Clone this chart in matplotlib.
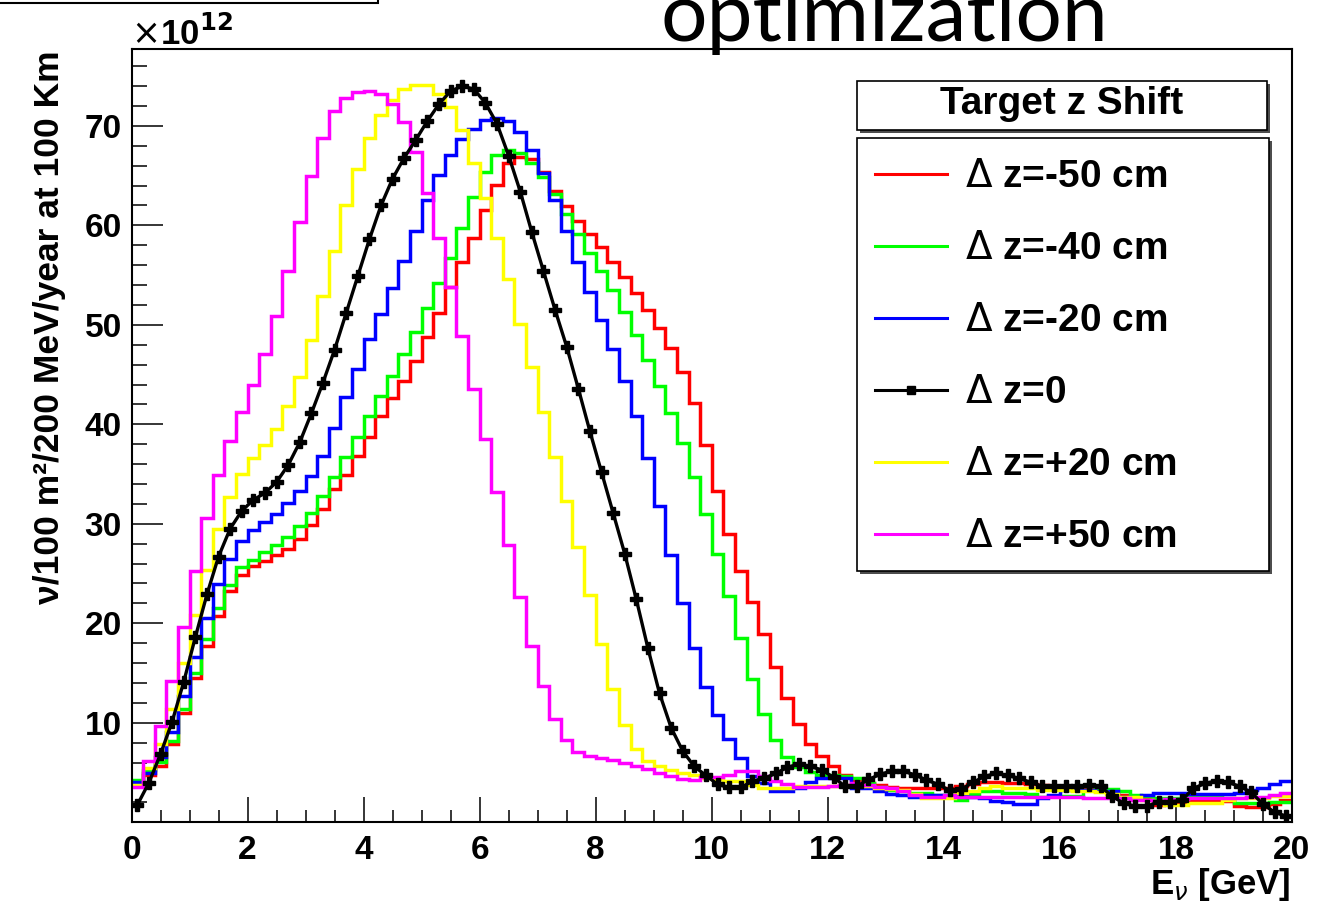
import numpy as np
import matplotlib
matplotlib.use('Agg')
import matplotlib.pyplot as plt
from matplotlib.patches import Rectangle
from matplotlib.lines import Line2D
from matplotlib.ticker import MultipleLocator, FuncFormatter

plt.rcParams['font.family'] = ['Liberation Sans', 'DejaVu Sans']

# -----------------------------
# Data: nu flux per 200 MeV bin (x 1e12), 0-20 GeV
# -----------------------------
bin_width = 0.2
n_bins = 100

dz_m50 = [3.9, 4.74, 5.65, 7.9, 11.0, 14.5, 17.7, 20.7, 23.2, 24.9,
          25.75, 26.3, 26.9, 27.5, 28.5, 29.9, 31.5, 33.5, 34.9, 36.8,
          38.7, 40.8, 42.6, 44.4, 46.4, 48.8, 51.2, 53.8, 56.3, 58.7,
          61.5, 64.1, 66.3, 66.9, 66.65, 65.4, 63.5, 61.9, 60.45, 59.1,
          57.8, 56.3, 54.8, 53.2, 51.5, 49.7, 47.7, 45.3, 42.1, 37.9,
          33.3, 29.0, 25.3, 22.1, 18.9, 15.6, 12.45, 9.9, 7.9, 6.65,
          5.6, 4.7, 4.2, 3.9, 3.7, 3.5, 3.4, 3.4, 3.4, 3.4,
          3.4, 3.6, 3.8, 4.0, 4.0, 3.9, 3.9, 3.8, 3.7, 3.67,
          3.67, 3.67, 3.47, 3.3, 3.1, 2.7, 2.5, 2.3, 1.75, 2.05,
          2.05, 2.2, 2.2, 2.2, 2.1, 1.6, 1.5, 1.5, 1.8, 2.2]

dz_m40 = [4.24, 5.2, 6.1, 8.2, 11.4, 15.0, 18.4, 21.5, 23.8, 25.7,
          26.4, 27.2, 27.9, 28.7, 29.8, 31.1, 32.8, 34.7, 36.7, 38.7,
          40.8, 42.8, 44.9, 47.1, 49.3, 51.7, 54.2, 56.7, 59.7, 62.9,
          65.4, 67.05, 67.6, 67.3, 66.3, 64.9, 63.2, 61.1, 59.1, 57.2,
          55.4, 53.5, 51.3, 49.0, 46.5, 43.9, 41.1, 38.1, 34.7, 31.0,
          27.0, 22.7, 18.5, 14.4, 10.9, 8.3, 6.55, 5.5, 5.0, 4.7,
          4.7, 4.6, 4.4, 3.9, 3.57, 3.25, 3.1, 2.9, 2.9, 2.74,
          2.74, 2.2, 2.8, 3.1, 3.15, 2.9, 2.9, 2.8, 2.5, 2.65,
          2.65, 2.65, 3.25, 3.35, 3.35, 3.1, 2.74, 2.6, 2.4, 2.45,
          2.45, 2.55, 2.55, 2.55, 2.45, 1.9, 1.9, 1.9, 2.0, 2.0]

dz_m20 = [4.07, 4.97, 6.6, 9.1, 12.7, 16.6, 20.5, 23.9, 26.5, 28.3,
          29.4, 30.2, 31.0, 32.05, 33.3, 34.8, 36.8, 39.6, 42.7, 45.6,
          48.6, 51.1, 53.7, 56.4, 59.4, 62.5, 65.1, 67.05, 68.7, 69.7,
          70.6, 70.8, 70.5, 69.4, 67.6, 65.3, 62.5, 59.45, 56.3, 53.3,
          50.5, 47.6, 44.4, 40.8, 36.6, 31.8, 26.9, 22.0, 17.5, 13.6,
          10.8, 8.4, 6.5, 4.6, 3.9, 3.1, 3.1, 3.4, 4.0, 4.4,
          4.4, 4.4, 3.47, 3.4, 3.1, 2.8, 2.7, 2.55, 2.7, 2.74,
          2.74, 2.74, 2.55, 2.4, 2.1, 2.06, 1.8, 1.8, 2.4, 2.74,
          3.25, 3.25, 3.25, 3.1, 3.1, 2.55, 2.4, 2.74, 2.97, 2.97,
          2.97, 2.8, 2.8, 2.8, 2.8, 2.9, 3.25, 3.47, 3.8, 4.15]

dz_0 = [1.73, 3.97, 6.85, 10.1, 14.1, 18.6, 22.9, 26.7, 29.5, 31.3,
        32.4, 33.1, 34.2, 35.9, 38.2, 41.1, 44.2, 47.5, 51.2, 54.9,
        58.6, 62.0, 64.7, 66.8, 68.6, 70.5, 72.2, 73.5, 74.0, 73.7,
        72.3, 70.2, 67.0, 63.4, 59.3, 55.4, 51.5, 47.8, 43.6, 39.3,
        35.2, 31.1, 27.0, 22.4, 17.5, 12.95, 9.5, 7.15, 5.6, 4.7,
        3.8, 3.5, 3.5, 4.1, 4.4, 4.9, 5.5, 5.85, 5.6, 5.25,
        4.5, 3.6, 3.6, 4.3, 4.8, 5.15, 5.15, 4.75, 4.25, 3.8,
        3.2, 3.3, 4.0, 4.6, 4.9, 4.7, 4.4, 4.0, 3.6, 3.6,
        3.6, 3.6, 3.74, 3.6, 2.6, 1.9, 1.6, 1.6, 2.05, 2.05,
        2.2, 3.4, 3.9, 4.15, 4.0, 3.6, 3.0, 1.8, 1.0, 0.6]

dz_p20 = [3.74, 5.4, 7.9, 11.4, 16.0, 20.8, 25.4, 29.5, 32.7, 35.0,
          36.6, 37.9, 39.5, 41.8, 44.8, 48.5, 52.9, 57.4, 62.0, 65.7,
          68.8, 71.1, 72.6, 73.66, 74.15, 74.1, 73.25, 71.9, 69.6, 66.3,
          62.8, 58.7, 54.6, 50.1, 45.8, 41.2, 36.7, 32.3, 27.7, 22.8,
          17.9, 13.4, 9.77, 7.4, 6.15, 5.6, 5.27, 4.93, 4.7, 4.4,
          4.35, 4.1, 4.1, 3.74, 3.47, 3.47, 3.4, 3.6, 3.67, 3.67,
          3.67, 3.7, 3.8, 3.6, 3.4, 3.3, 3.25, 2.8, 2.4, 2.4,
          2.45, 2.9, 3.1, 3.4, 3.67, 3.4, 3.4, 3.4, 3.25, 3.25,
          3.2, 3.1, 3.1, 3.0, 2.8, 2.55, 2.55, 2.2, 2.05, 1.73,
          1.73, 1.9, 1.9, 1.9, 2.2, 2.4, 2.4, 2.4, 2.6, 2.67]

dz_p50 = [3.5, 6.18, 9.67, 14.19, 19.65, 25.3, 30.6, 34.9, 38.3, 41.2,
          44.0, 47.05, 50.9, 55.4, 60.3, 65.0, 68.8, 71.5, 72.85, 73.4,
          73.5, 73.25, 72.25, 70.4, 67.4, 63.3, 58.7, 53.8, 48.9, 43.5,
          38.5, 33.2, 27.9, 22.6, 17.7, 13.7, 10.4, 8.26, 7.09, 6.65,
          6.5, 6.25, 6.0, 5.68, 5.3, 4.93, 4.6, 4.35, 4.2, 4.5,
          4.55, 4.7, 5.1, 5.1, 4.6, 4.15, 3.8, 3.57, 3.57, 3.57,
          3.6, 3.7, 3.9, 3.74, 3.57, 3.4, 3.1, 2.74, 2.55, 2.55,
          2.7, 2.55, 2.5, 2.5, 2.5, 2.5, 2.5, 2.5, 2.5, 2.5,
          2.5, 2.5, 2.45, 2.45, 2.45, 2.4, 2.2, 2.2, 2.05, 2.3,
          2.3, 2.45, 2.45, 2.45, 2.45, 2.45, 2.5, 2.5, 2.7, 2.9]

labels = [r'$\Delta$ z=-50 cm', r'$\Delta$ z=-40 cm', r'$\Delta$ z=-20 cm',
          r'$\Delta$ z=0', r'$\Delta$ z=+20 cm', r'$\Delta$ z=+50 cm']
colors = ['#ff0000', '#00ff00', '#0000ff', 'black', '#ffff00', '#ff00ff']

edges = np.arange(n_bins + 1) * bin_width
centers = edges[:-1] + bin_width / 2

# -----------------------------
# Figure / axes (pixel layout)
# -----------------------------
W, H = 1326, 902
fig = plt.figure(figsize=(W / 100, H / 100), dpi=100)


def fx(px):
    return px / W


def fy(py):
    return 1 - py / H


ax = fig.add_axes([fx(131.5), fy(822.2), fx(1292) - fx(131.5), fy(49.3) - fy(822.2)])

all_series = [dz_m50, dz_m40, dz_m20, dz_0, dz_p20, dz_p50]
handles = []
for vals, col, lab in zip(all_series, colors, labels):
    if col == 'black':
        ax.plot(centers, vals, color='k', lw=2.4, marker='P', ms=9,
                mec='k', mfc='k', zorder=3)
        handles.append(Line2D([], [], color='k', lw=2.2, marker='s', ms=6))
    else:
        ax.stairs(vals, edges, baseline=None, color=col, lw=2.5, zorder=2)
        handles.append(Line2D([], [], color=col, lw=2.2))

ax.set_xlim(0, 20)
ax.set_ylim(0, 77.7)

for sp in ax.spines.values():
    sp.set_linewidth(1.5)

ax.xaxis.set_major_locator(MultipleLocator(2))
ax.xaxis.set_minor_locator(MultipleLocator(0.5))
ax.set_yticks([10, 20, 30, 40, 50, 60, 70])
ax.yaxis.set_minor_locator(MultipleLocator(2))
ax.xaxis.set_major_formatter(FuncFormatter(lambda v, p: f'{v:.0f}'))

ax.tick_params(axis='both', which='both', direction='in', top=False, right=False,
               width=1.1)
ax.tick_params(axis='x', which='major', length=18, pad=9.5)
ax.tick_params(axis='x', which='minor', length=8.6)
ax.tick_params(axis='y', which='major', length=22, pad=7)
ax.tick_params(axis='y', which='minor', length=10.8)
for lab in ax.get_xticklabels() + ax.get_yticklabels():
    lab.set_fontsize(24)
    lab.set_fontweight('bold')

# axis titles
fig.text(fx(1291), fy(894), r'E$_{\nu}$ [GeV]', ha='right', va='baseline',
         fontsize=25, fontweight='bold')
fig.text(fx(50), fy(50), 'ν/100 m²/200 MeV/year at 100 Km', rotation=90,
         ha='center', va='top', fontsize=25.5, fontweight='bold')
fig.text(fx(131), fy(45), r'$\times$10$^{\mathbf{12}}$', ha='left', va='baseline',
         fontsize=25, fontweight='bold')

# slide overlay
fig.text(fx(660), fy(41), 'optimization', family='Lato', fontsize=59,
         ha='left', va='baseline')
fig.add_artist(Rectangle((fx(-5), fy(3)), (383) / W, 0.2, fill=False, lw=1.5,
                         ec='k', transform=fig.transFigure, clip_on=False))

# -----------------------------
# Legend boxes (ROOT style with shadow)
# -----------------------------
def root_box(x0, y0, x1, y1):
    fig.add_artist(Rectangle((fx(x0 + 3), fy(y1 + 3)), (x1 - x0) / W, (y1 - y0) / H,
                             fc='0.3', ec='none', transform=fig.transFigure, zorder=4))
    fig.add_artist(Rectangle((fx(x0), fy(y1)), (x1 - x0) / W, (y1 - y0) / H,
                             fc='white', ec='k', lw=1.2, transform=fig.transFigure,
                             zorder=5))


root_box(857, 81, 1267, 130)
root_box(857, 138, 1269, 571)

fig.text(fx(1062), fy(104), 'Target z Shift', ha='center', va='center',
         fontsize=28, fontweight='bold', zorder=10)

leg = fig.legend(handles, labels, loc='upper left',
                 bbox_to_anchor=(fx(856), fy(140)), bbox_transform=fig.transFigure,
                 frameon=False, borderpad=0, handlelength=1.85, handletextpad=0.45,
                 labelspacing=0.925, numpoints=1,
                 prop={'family': 'Liberation Sans', 'weight': 'bold', 'size': 28})
leg.set_zorder(10)

fig.savefig('out.png', dpi=100)
